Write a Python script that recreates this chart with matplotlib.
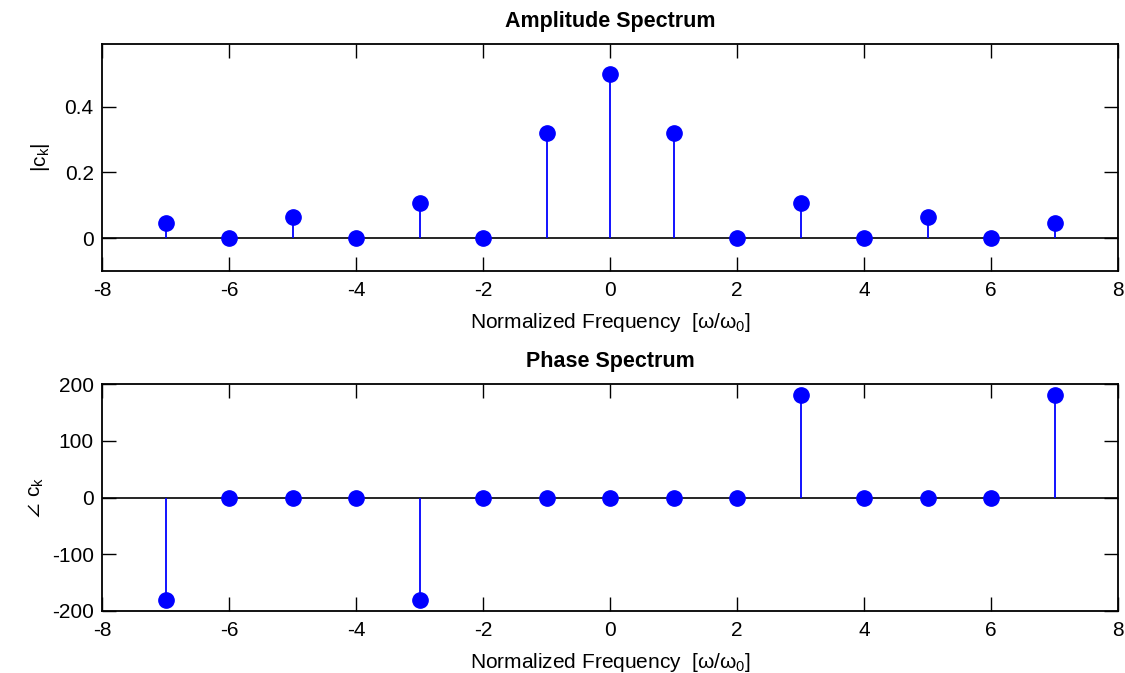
import matplotlib
matplotlib.use("Agg")
import matplotlib.pyplot as plt
import numpy as np

plt.rcParams['font.family'] = ['Liberation Sans', 'DejaVu Sans']
plt.rcParams['mathtext.default'] = 'regular'
plt.rcParams['axes.unicode_minus'] = False

k = [-7, -6, -5, -4, -3, -2, -1, 0, 1, 2, 3, 4, 5, 6, 7]
amp = [0.0455, 0.0, 0.0637, 0.0, 0.1061, 0.0, 0.3183, 0.5, 0.3183, 0.0, 0.1061, 0.0, 0.0637, 0.0, 0.0455]
phase = [-180, 0, 0, 0, -180, 0, 0, 0, 0, 0, 180, 0, 0, 0, 180]
xticks = [-8, -6, -4, -2, 0, 2, 4, 6, 8]

fig = plt.figure(figsize=(11.25, 6.73), dpi=100)
W, H = 1125, 673
ax1 = fig.add_axes([102 / W, (H - 271) / H, 1016 / W, 227 / H])
ax2 = fig.add_axes([102 / W, (H - 611) / H, 1016 / W, 227 / H])

FS = 15

def style(ax):
    ax.set_xlim(-8, 8)
    ax.set_xticks(xticks)
    ax.tick_params(direction='in', length=10, width=1, top=True, right=True,
                   labelsize=FS)
    ax.tick_params(axis='x', pad=7)
    ax.tick_params(axis='y', pad=6)
    for s in ax.spines.values():
        s.set_linewidth(1.3)
    ax.axhline(0, color='black', lw=1.2, zorder=1)

for ax, vals in ((ax1, amp), (ax2, phase)):
    ml, sl, bl = ax.stem(k, vals, linefmt='b-', markerfmt='bo', basefmt=' ')
    ml.set_markersize(11)
    sl.set_linewidth(1.3)
    style(ax)

ax1.set_ylim(-0.1, 0.59)
ax1.set_yticks([0, 0.2, 0.4])
ax1.set_yticklabels(['0', '0.2', '0.4'])
ax2.set_ylim(-200, 200)
ax2.set_yticks([-200, -100, 0, 100, 200])

ax1.set_title('Amplitude Spectrum', fontsize=15.5, fontweight='bold', pad=12)
ax2.set_title('Phase Spectrum', fontsize=15.5, fontweight='bold', pad=12)
xl = r'Normalized Frequency  [$\omega/\omega_0$]'
ax1.set_xlabel(xl, fontsize=FS, labelpad=8)
ax2.set_xlabel(xl, fontsize=FS, labelpad=8)
ax1.set_ylabel(r'$|c_k|$', fontsize=FS, labelpad=9)
ax2.set_ylabel(r'$\angle\ c_k$', fontsize=FS, labelpad=4)

fig.savefig('out.png', dpi=100)
